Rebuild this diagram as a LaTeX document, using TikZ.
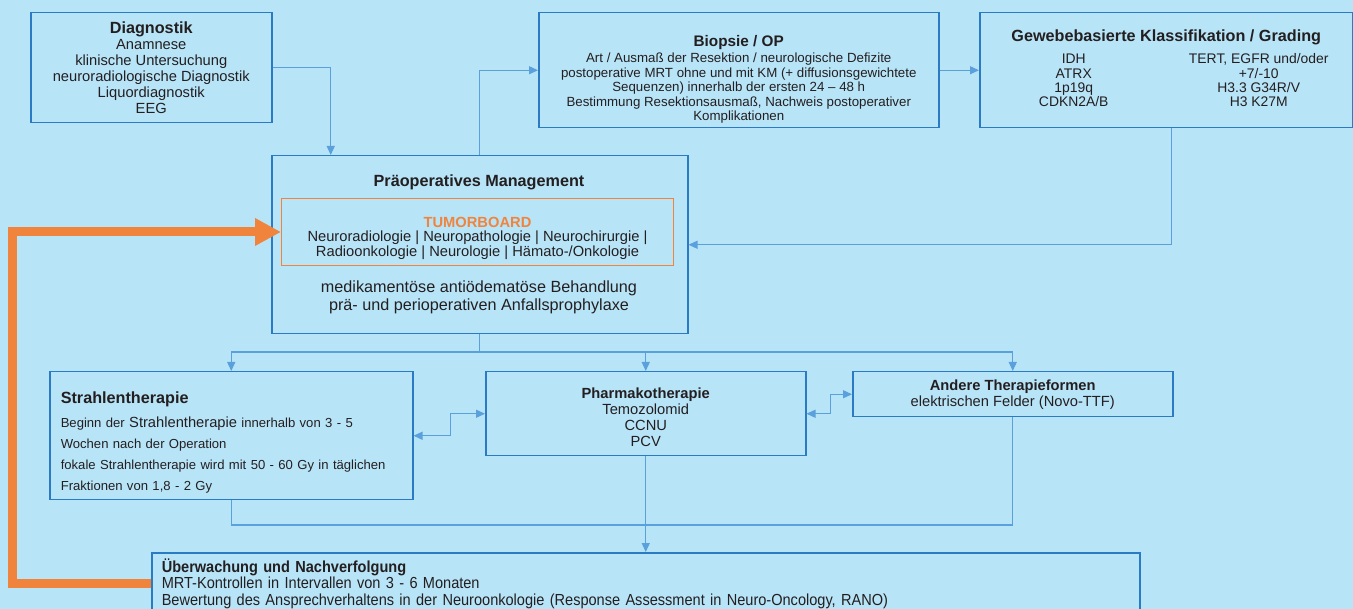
\documentclass[tikz,border=0pt]{standalone}
\usepackage{fontspec}
\usepackage{array}
\setmainfont{Liberation Sans}
\newfontfamily\narrowsans[FakeStretch=0.91]{Liberation Sans}
\usetikzlibrary{arrows.meta}
\definecolor{bgblue}{HTML}{B8E4F8}
\definecolor{boxblue}{HTML}{2A7AC4}
\definecolor{lineblue}{HTML}{5AA0DC}
\definecolor{txtgray}{HTML}{231F20}
\definecolor{tborange}{HTML}{F0843C}
\newcommand\fsz[2]{\fontsize{#1}{#2}\selectfont}
\newcommand\lift[1]{\rule{0pt}{#1pt}}
\tikzset{
  box/.style={draw=boxblue, line width=1.5pt, inner sep=0pt, text=txtgray, align=center, anchor=north west},
  tbbox/.style={box, draw=tborange, line width=1pt},
  flowline/.style={draw=lineblue, line width=1.3pt},
  flow/.style={flowline, -{Triangle[length=9pt,width=8pt]}},
  flowboth/.style={flowline, {Triangle[length=9pt,width=8pt]}-{Triangle[length=9pt,width=8pt]}},
  loopback/.style={draw=tborange, line width=9pt, -{Triangle[length=26pt,width=26pt]}}
}

\begin{document}
\begin{tikzpicture}[x=1pt,y=-1pt]
			%%%%% START %%%%%
			
			\fill[bgblue] (0,0) rectangle (1353,609);
			\useasboundingbox (0,0) rectangle (1353,609);
			
			\node[box, minimum width=241, minimum height=110, font=\fsz{14.7}{16}] (diag) at (30,12)
				{{\fsz{16.2}{16}\bfseries Diagnostik}\\Anamnese\\klinische Untersuchung\\neuroradiologische Diagnostik\\Liquordiagnostik\\EEG};
			
			\node[box, minimum width=400, minimum height=115, font=\fsz{13.3}{14.5}] (bio) at (538,12)
				{{\fsz{15.3}{15}\bfseries\lift{29}Biopsie / OP}\\[2pt]Art / Ausmaß der Resektion / neurologische Defizite\\postoperative MRT ohne und mit KM (+ diffusionsgewichtete\\Sequenzen) innerhalb der ersten 24 – 48 h\\Bestimmung Resektionsausmaß, Nachweis postoperativer\\Komplikationen};
			
			\node[box, minimum width=373, minimum height=115, font=\fsz{13.9}{14}] (grad) at (979,12)
				{{\fsz{16.2}{16}\bfseries Gewebebasierte Klassifikation / Grading}\\[8pt]
				\begin{tabular}{@{}>{\centering\arraybackslash}p{165pt}@{\hspace{20pt}}>{\centering\arraybackslash}p{165pt}@{}}
					IDH & TERT, EGFR und/oder\\
					ATRX & +7/-10\\
					1p19q & H3.3 G34R/V\\
					CDKN2A/B & H3 K27M
				\end{tabular}};
			
			\node[box, minimum width=416, minimum height=178] (praeop) at (271,155) {};
			\node[text=txtgray, font=\fsz{16.2}{16}\bfseries] (pretitle) at (479,182) {Präoperatives Management};
			\node[tbbox, minimum width=392, minimum height=67, font=\fsz{14.7}{14.5}] (tb) at (281,198)
				{{\color{tborange}\bfseries\lift{23}TUMORBOARD}\\Neuroradiologie | Neuropathologie | Neurochirurgie |\\Radioonkologie | Neurologie | Hämato-/Onkologie};
			\node[text=txtgray, align=center, font=\fsz{16.2}{18}] (pretext) at (479,297)
				{medikamentöse antiödematöse Behandlung\\prä- und perioperativen Anfallsprophylaxe};
			
			\node[box, align=left, text width=341, inner xsep=11, minimum height=128, font=\fsz{13.1}{21}] (strahlen) at (49,371)
				{{\fsz{16.2}{16}\bfseries\lift{25}Strahlentherapie}\\[3pt]Beginn der {\fsz{14.7}{16}Strahlentherapie} innerhalb von 3 - 5\\Wochen nach der Operation\\fokale Strahlentherapie wird mit 50 - 60 Gy in täglichen\\Fraktionen von 1,8 - 2 Gy};
			
			\node[box, minimum width=320, minimum height=84, font=\fsz{14.7}{16}] (pharma) at (485,371)
				{{\bfseries\lift{17}Pharmakotherapie}\\Temozolomid\\CCNU\\PCV};
			
			\node[box, minimum width=320, minimum height=45, font=\fsz{14.7}{16}] (andere) at (852,371)
				{{\bfseries Andere Therapieformen}\\elektrischen Felder (Novo-TTF)};
			
			\node[box, align=left, text width=968, inner xsep=10, minimum height=62, font=\narrowsans\fsz{16}{16.5}] (follow) at (151,552)
				{{\bfseries Überwachung und Nachverfolgung}\\MRT-Kontrollen in Intervallen von 3 - 6 Monaten\\Bewertung des Ansprechverhaltens in der Neuroonkologie (Response Assessment in Neuro-Oncology, RANO)};
			
			\draw[flow] (diag.east) -| ([xshift=-149pt]praeop.north);
			\draw[flow] (praeop.north) |- (bio.west);
			\draw[flow] (bio) -- (grad);
			\draw[flow] ([xshift=5.5pt]grad.south) |- (praeop.east);
			
			\coordinate (split) at (479,352);
			\draw[flowline] (praeop.south) -- (praeop.south |- split);
			\draw[flow] (split) -| (strahlen.north);
			\draw[flow] (split) -| (pharma.north);
			\draw[flow] (split) -| (andere.north);
			
			\draw[flowboth] (strahlen.east) -- ++(37,0) |- (pharma.west);
			\draw[flowboth] (pharma.east) -- ++(24,0) |- (andere.west);
			
			\coordinate (join) at (645,525);
			\draw[flowline] (strahlen.south) |- (join);
			\draw[flowline] (andere.south) |- (join);
			\draw[flow] (pharma.south) -- (follow.north);
			
			\coordinate (turn) at (12.5,0);
			\draw[loopback] (follow.west) -| (turn |- tb.west) -- (tb.west);
			
			%%%%% END %%%%%
\end{tikzpicture}
\end{document}
